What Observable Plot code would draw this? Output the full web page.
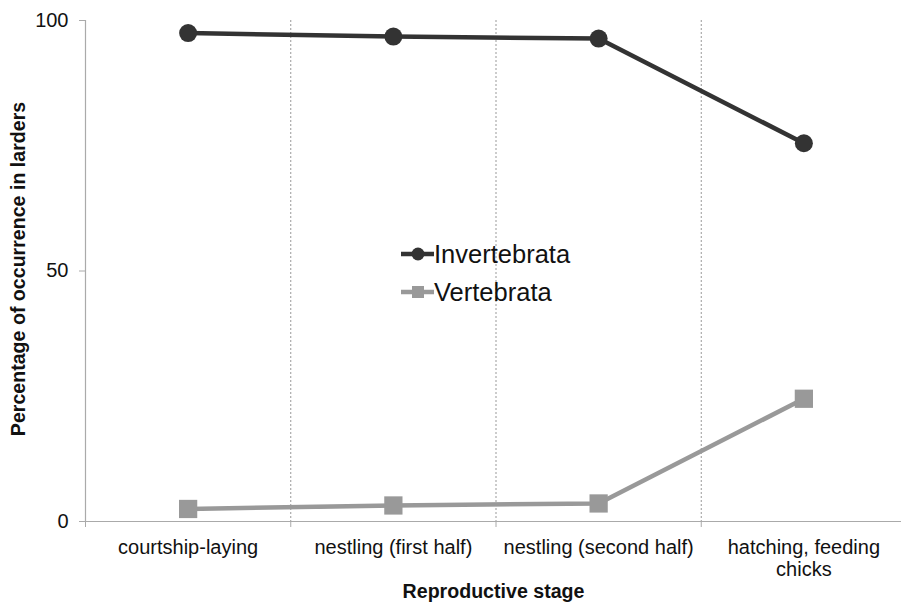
<!DOCTYPE html>
<html><head><meta charset="utf-8">
<script src="https://cdn.jsdelivr.net/npm/d3@7"></script>
<script src="https://cdn.jsdelivr.net/npm/@observablehq/plot@0.6"></script>
<style>
body{margin:0;background:#fff;font-family:"Liberation Sans",Arial,sans-serif}
#wrap{position:relative;width:901px;height:609px;overflow:hidden}
#legend{position:absolute;left:398px;top:236px}
</style>
</head><body><div id="wrap"><div id="legend"></div></div>
<script>
const stages = ["courtship-laying", "nestling (first half)", "nestling (second half)", "hatching, feeding\nchicks"];
const invertebrata = [97.5, 96.8, 96.4, 75.5];
const vertebrata = [2.5, 3.2, 3.6, 24.5];
const yTicks = [0, 50, 100];
const seriesNames = ["Invertebrata", "Vertebrata"];
const seriesColors = ["#333333", "#999999"];
const yTitle = "Percentage of occurrence in larders";
const xTitle = "Reproductive stage";

const centers = stages.map((s, i) => i + 0.5);
const bounds = stages.map((s, i) => i);
const inv = stages.map((s, i) => ({x: i + 0.5, y: invertebrata[i]}));
const vert = stages.map((s, i) => ({x: i + 0.5, y: vertebrata[i]}));

const font = "Liberation Sans, Arial, sans-serif";
const chart = Plot.plot({
  width: 901, height: 609,
  marginLeft: 85, marginRight: 0, marginTop: 20, marginBottom: 88,
  style: {fontFamily: font, background: "#fff", color: "#000"},
  x: {domain: [0, 4], range: [85, 906]},
  y: {domain: [0, 100], range: [521, 20]},
  marks: [
    Plot.ruleX(bounds.slice(1), {stroke: "#999", strokeDasharray: "2,2", strokeWidth: 1}),
    Plot.ruleX([0], {stroke: "#aaa", strokeWidth: 1.2}),
    Plot.ruleY([0], {stroke: "#aaa", strokeWidth: 1.2}),
    Plot.axisY(yTicks, {tickSize: 6, tickPadding: 11, fontSize: 20, stroke: "#aaa", fill: "#111", label: null, tickFormat: d => String(d)}),
    Plot.axisX(bounds, {tickSize: 6, stroke: "#aaa", tickFormat: () => "", label: null}),
    Plot.axisX(centers, {tickSize: 0, tickPadding: 17, fontSize: 20, lineHeight: 1.1, fill: "#111", label: null, tickFormat: d => stages[Math.floor(d)]}),
    Plot.text([yTitle], {frameAnchor: "left", textAnchor: "middle", lineAnchor: "middle", rotate: -90, dx: -67, dy: -2, fontSize: 19.6, fontWeight: "bold", fill: "#111"}),
    Plot.text([xTitle], {frameAnchor: "bottom", textAnchor: "middle", lineAnchor: "middle", dy: 70, fontSize: 19.6, fontWeight: "bold", fill: "#111"}),
    Plot.line(vert, {x: "x", y: "y", stroke: seriesColors[1], strokeWidth: 4.5}),
    Plot.dot(vert, {x: "x", y: "y", symbol: "square", r: 10.3, fill: seriesColors[1], stroke: null}),
    Plot.line(inv, {x: "x", y: "y", stroke: seriesColors[0], strokeWidth: 4.5}),
    Plot.dot(inv, {x: "x", y: "y", r: 9, fill: seriesColors[0], stroke: null})
  ]
});
document.getElementById("wrap").prepend(chart);

// legend
const lg = d3.select("#legend").append("svg").attr("width", 200).attr("height", 80)
  .style("font-family", font);
seriesNames.forEach((name, i) => {
  const g = lg.append("g").attr("transform", `translate(0,${18 + i * 38})`);
  g.append("line").attr("x1", 3).attr("x2", 36).attr("y1", 0).attr("y2", 0)
    .attr("stroke", seriesColors[i]).attr("stroke-width", 4.5);
  if (i === 0) g.append("circle").attr("cx", 20).attr("cy", 0).attr("r", 6.5).attr("fill", seriesColors[i]);
  else g.append("rect").attr("x", 14).attr("y", -6).attr("width", 12).attr("height", 12).attr("fill", seriesColors[i]);
  g.append("text").attr("x", 36).attr("y", 9).attr("font-size", 25.5).attr("fill", "#111").text(name);
});
</script>
</body></html>
